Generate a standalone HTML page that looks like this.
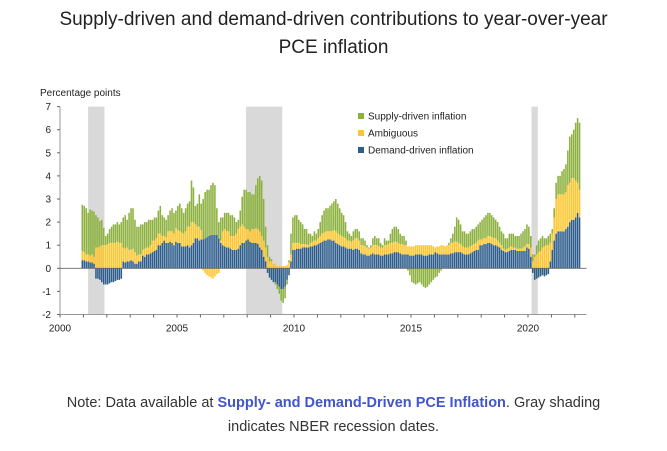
<!DOCTYPE html>
<html><head><meta charset="utf-8"><style>
body{margin:0;background:#fff;width:667px;height:451px;overflow:hidden;font-family:"Liberation Sans",sans-serif}
#title{position:absolute;left:0;top:6px;width:667px;text-align:center;font-size:19px;line-height:28px;color:#222}
#note{position:absolute;left:0;top:391px;width:667px;text-align:center;font-size:14.5px;line-height:24px;color:#333}
#note a{color:#4056c9;font-weight:bold;text-decoration:none}
svg{position:absolute;left:0;top:0}
</style></head><body>
<div id="title">Supply-driven and demand-driven contributions to year-over-year<br>PCE inflation</div>
<svg id="chart" width="667" height="451"></svg>
<div id="note">Note: Data available at <a>Supply- and Demand-Driven PCE Inflation</a>. Gray shading<br>indicates NBER recession dates.</div>
<script>
const startYear = 2000.92;
const demand = [
.35,.35,.3,.3,.25,.25,.2,-.45,-.45,-.5,-.6,-.7,
-.7,-.7,-.65,-.6,-.6,-.55,-.5,-.5,-.45,.3,.25,.3,
.3,.35,.3,.2,.2,.3,.3,.55,.5,.6,.6,.65,
.7,.75,.8,1.0,1.0,1.1,1.2,1.1,1.1,1.15,1.1,1.0,
1.15,1.1,1.1,.95,.95,.95,1.0,.9,1.0,1.1,1.3,1.3,
1.2,1.25,1.25,1.3,1.35,1.4,1.45,1.45,1.45,1.45,1.3,1.1,
1.0,.95,.9,.9,.85,.8,.8,.8,.85,1.0,1.1,1.1,
1.2,1.25,1.15,1.1,1.1,1.1,1.05,.9,.8,.5,.3,-.2,
-.4,-.5,-.6,-.6,-.7,-.8,-.9,-.9,-.8,-.5,-.3,.3,
.8,.8,.85,.85,.85,.9,.9,.9,.9,.95,.95,1.0,
1.0,1.05,1.1,1.15,1.2,1.2,1.25,1.25,1.2,1.2,1.1,1.05,
1.0,.95,.95,.9,.85,.85,.85,.8,.85,.85,.8,.65,
.6,.6,.55,.55,.6,.65,.6,.6,.6,.55,.55,.6,
.6,.6,.65,.65,.7,.7,.7,.65,.6,.6,.6,.6,
.55,.55,.55,.6,.6,.6,.6,.55,.55,.55,.6,.6,
.6,.7,.65,.6,.6,.6,.6,.6,.6,.65,.65,.7,
.7,.7,.7,.65,.6,.6,.6,.65,.7,.75,.8,.8,
1.0,1.0,1.05,1.05,1.1,1.1,1.05,1.0,1.0,.95,.9,.8,
.75,.7,.7,.75,.8,.8,.8,.75,.75,.75,.75,.75,
.9,.85,.5,-.2,-.5,-.45,-.4,-.35,-.3,-.35,-.3,-.25,
.3,.8,1.2,1.5,1.6,1.6,1.6,1.6,1.7,1.8,2.0,2.1,
2.1,2.2,2.4,2.2];
const ambiguous = [
.4,.35,.3,.3,.3,.35,.3,.9,.9,.95,1.0,1.0,
1.0,1.05,1.1,1.1,1.1,1.1,1.15,1.1,1.1,.6,.6,.6,
.5,.45,.55,.5,.35,.3,.3,.25,.35,.3,.3,.35,
.5,.45,.5,.5,.5,.3,.2,.25,.5,.45,.5,.5,
.6,.55,.5,.6,.55,.65,.8,.9,1.0,.9,.6,.5,
.6,.4,-.1,-.2,-.3,-.35,-.4,-.45,-.35,-.25,-.2,.1,
.6,.75,.7,.7,.55,.6,.6,.7,.85,.8,.8,.7,
.5,.45,.45,.6,.6,.65,.65,.7,.6,.7,.6,.5,
.3,.3,.2,.2,.1,.1,.1,.1,.1,.15,.25,.3,
.3,.3,.25,.25,.2,.15,.15,.15,.1,.15,.2,.2,
.2,.25,.3,.35,.35,.4,.35,.35,.4,.45,.5,.45,
.45,.45,.4,.4,.35,.35,.3,.4,.45,.45,.4,.35,
.4,.35,.35,.3,.3,.35,.4,.4,.35,.35,.35,.4,
.4,.45,.45,.45,.45,.45,.4,.4,.45,.4,.4,.35,
.4,.4,.4,.4,.4,.4,.4,.45,.45,.45,.4,.4,
.35,.2,.3,.35,.4,.4,.35,.4,.4,.45,.45,.45,
.45,.4,.35,.3,.3,.3,.3,.3,.3,.3,.3,.4,
.25,.25,.25,.25,.3,.3,.3,.3,.3,.25,.2,.2,
.1,.1,.15,.15,.15,.1,.1,.1,.1,.1,.15,.2,
.15,.2,.4,.3,.5,.6,.7,.75,.9,.95,1.0,1.0,
.8,.7,1.0,1.5,1.6,1.6,1.6,1.6,1.6,1.8,1.7,1.8,
1.8,1.6,1.3,1.2];
const supply = [
2.0,2.0,2.0,1.8,2.0,1.9,1.95,1.4,1.3,1.1,1.1,.75,
.4,.45,.6,.7,.8,.8,.85,.8,.9,1.3,1.45,1.2,
1.6,1.8,1.75,1.4,1.25,1.2,1.3,1.1,1.15,1.1,1.2,1.1,
.9,1.0,.9,1.0,1.2,.9,.8,.75,.7,.9,1.0,.9,
.75,1.05,1.2,1.05,.9,1.0,1.0,1.1,1.8,1.5,.8,1.0,
1.4,1.15,1.75,2.0,2.05,2.0,2.15,2.25,2.15,1.15,.7,1.0,
.6,.7,.8,.8,.9,.9,.8,.5,.4,.7,1.2,1.6,
1.7,1.6,1.7,1.5,1.5,1.85,2.2,2.4,2.4,1.8,.9,.5,
.2,.1,0,-.1,-.2,-.3,-.5,-.6,-.5,-.2,.1,.9,
1.1,1.2,1.2,1.0,.95,.85,.65,.65,.5,.4,.25,.4,
.3,.4,.6,.8,.95,1.0,1.0,1.1,1.2,1.25,1.4,1.3,
1.15,1.0,.95,.7,.4,.3,.25,.4,.4,.4,.4,.3,
.3,.25,.1,.05,.1,.3,.4,.3,.35,.2,.1,.3,
.2,.15,.4,.6,.65,.65,.6,.45,.35,.4,.2,-.1,
-.3,-.6,-.65,-.7,-.65,-.6,-.7,-.8,-.85,-.8,-.7,-.6,
-.5,-.4,-.35,-.2,-.1,0,0,0,.1,.2,.4,.65,
1.05,1.0,.85,.65,.7,.6,.6,.65,.7,.65,.7,.7,
.75,.85,.9,1.0,1.0,1.0,.95,.9,.8,.8,.7,.6,
.65,.5,.45,.6,.55,.6,.5,.55,.55,.65,.7,.75,
.85,.75,.5,.3,.1,.4,.5,.55,.5,.35,.3,.4,
.4,.2,.4,.7,.8,.8,1.0,1.1,1.2,1.5,2.0,1.9,
2.1,2.5,2.8,2.9];
const yTicks = [-2,-1,0,1,2,3,4,5,6,7];
const xTicks = [2000,2005,2010,2015,2020];
const recessions = [[2001.2,2001.9],[2007.95,2009.5],[2020.15,2020.42]];
const seriesNames = ["Supply-driven inflation","Ambiguous","Demand-driven inflation"];

const NS="http://www.w3.org/2000/svg";
const svg=document.getElementById('chart');
const X0=60, Y0=268.3, PX=23.4, PY=23.1;
function xOf(y){return X0+(y-2000)*PX;}
function yOf(v){return Y0-v*PY;}
function mk(tag,attrs,parent){const e=document.createElementNS(NS,tag);for(const k in attrs)e.setAttribute(k,attrs[k]);(parent||svg).appendChild(e);return e;}
const COL={s:'#8cb13e',a:'#fdc630',d:'#2e5d8c'};

recessions.forEach(r=>{
  const e=mk('rect',{x:xOf(r[0]),y:yOf(7),width:xOf(r[1])-xOf(r[0]),height:yOf(-2)-yOf(7),fill:'#d9d9d9'});
  
  
});

const g=mk('g',{});


demand.forEach((d,i)=>{
  const t=startYear+i/12, x=xOf(t), w=1.55;
  let pos=0, neg=0;
  [['d',d],['a',ambiguous[i]],['s',supply[i]]].forEach(([k,v])=>{
    if(!v) return;
    let y0,y1;
    if(v>0){y0=pos;y1=pos+v;pos=y1;}else{y0=neg;y1=neg+v;neg=y1;}
    const e=mk('rect',{x:x,y:Math.min(yOf(y0),yOf(y1)),width:w,height:Math.abs(yOf(y1)-yOf(y0)),fill:COL[k]},g);
    
    
  });
});

const ax=mk('line',{x1:X0,y1:yOf(7),x2:X0,y2:yOf(-2),stroke:'#999','stroke-width':1});


const xa=mk('line',{x1:X0,y1:yOf(-2),x2:xOf(2022.5),y2:yOf(-2),stroke:'#999','stroke-width':1});


const zl=mk('line',{x1:X0,y1:Y0,x2:xOf(2022.5),y2:Y0,stroke:'#666','stroke-width':0.8});


yTicks.forEach(v=>{
  mk('line',{x1:X0-3,y1:yOf(v),x2:X0,y2:yOf(v),stroke:'#666'});
  const t=mk('text',{x:X0-9,y:yOf(v)+3.5,'text-anchor':'end','font-size':10,fill:'#222'});
  t.textContent=v;
  
  
});
for(let y=2000;y<=2022;y++){
  mk('line',{x1:xOf(y),y1:yOf(-2),x2:xOf(y),y2:yOf(-2)+3,stroke:'#666'});
}
xTicks.forEach(v=>{
  const t=mk('text',{x:xOf(v),y:yOf(-2)+17,'text-anchor':'middle','font-size':10,fill:'#222'});
  t.textContent=v;
  
  
});
const yt=mk('text',{x:40,y:96,'font-size':10,fill:'#222'});
yt.textContent='Percentage points';



const lc=[COL.s,COL.a,COL.d];
seriesNames.forEach((n,i)=>{
  const y=117+i*17;
  const r=mk('rect',{x:358,y:y-4,width:6,height:6,fill:lc[i]});
  
  
  const t=mk('text',{x:368,y:y+2.5,'font-size':10,fill:'#222'});
  t.textContent=n;
  
  
});
</script>
</body></html>
